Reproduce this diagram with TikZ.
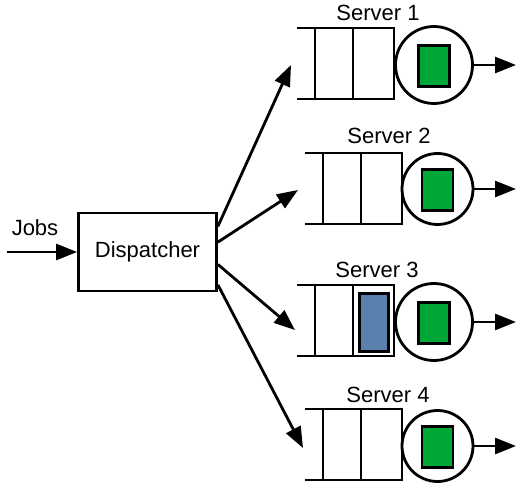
\documentclass[tikz,border=0pt]{standalone}
\usepackage{fontspec}
\setmainfont{Liberation Sans}
\usetikzlibrary{arrows.meta}

\definecolor{jobgreen}{RGB}{0,168,56}
\definecolor{jobblue}{RGB}{90,128,174}

\tikzset{
  post/.style={-{Triangle[length=21pt,width=16pt]}},
  job/.style={draw, fill=jobgreen, minimum width=31pt, minimum height=41pt, inner sep=0pt}
}

\begin{document}
\begin{tikzpicture}[x=1pt, y=-1pt, line width=2.8pt, font=\fontsize{22}{26}\selectfont]
   \useasboundingbox (0,0) rectangle (517,486);

   \node [draw, minimum width=138pt, minimum height=78pt] (vD) at (147.5,252) {Dispatcher};
   \node (lJ) at (35,228) {Jobs};
   \coordinate (vJ) at (7,252);
   \draw (vJ) edge[post] (vD);

   \foreach \i/\x/\y/\cx/\cy/\d/\lx/\ly/\ix/\iy in {1/297/28/434/65/77/378/13/291/65, 2/305/153/437.5/189/71/389/136/298/190,
                                                  3/297/285/434/322/77/377/270/295/330, 4/305/409/437.5/446/71/388/395/303/448}
   {
     \draw (\x,\y) -- ++(97,0) -- ++(0,71) -- ++(-97,0);
     \draw (\x+18,\y) -- ++(0,71) (\x+56,\y) -- ++(0,71);
     \node [circle, draw, fill=white, minimum size=\d pt, inner sep=0pt] (s\i) at (\cx,\cy) {};
     \node [job] (j\i) at (\cx,\cy+1) {};
     \node (l\i) at (\lx,\ly) {Server \i};
     \coordinate (in\i) at (\ix,\iy);
     \coordinate (out\i) at (516,\cy);
     \draw (s\i.east) edge[post] (out\i);
   }

   \node [draw, fill=jobblue, minimum width=29pt, minimum height=58pt, inner sep=0pt] (b3) at (374,322.5) {};

   \foreach \a/\t in {20/1, 8/2, -10/3, -25/4}
     \draw (vD.\a) edge[post] (in\t);

\end{tikzpicture}
\end{document}
